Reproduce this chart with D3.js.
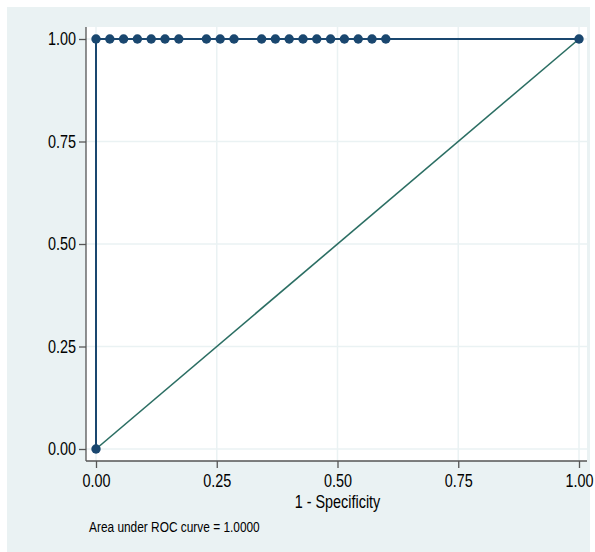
<!DOCTYPE html>
<html>
<head>
<meta charset="utf-8">
<script src="https://cdn.jsdelivr.net/npm/d3@7"></script>
<style>
html,body{margin:0;padding:0;background:#fff;}
svg text{font-family:"Liberation Sans",Arial,sans-serif;fill:#000;}
</style>
</head>
<body>
<svg id="chart" width="595" height="552"></svg>
<script>
// ROC curve points (1 - specificity, sensitivity)
const fpr = [0, 0, 0.0286, 0.0571, 0.0857, 0.1143, 0.1429, 0.1714, 0.2286, 0.2571, 0.2857, 0.3429, 0.3714, 0.4, 0.4286, 0.4571, 0.4857, 0.5143, 0.5429, 0.5714, 0.6, 1];
const sens = [0, 1, 1, 1, 1, 1, 1, 1, 1, 1, 1, 1, 1, 1, 1, 1, 1, 1, 1, 1, 1, 1];
const refX = [0, 1];
const refY = [0, 1];
const xTicks = [0, 0.25, 0.5, 0.75, 1];
const yTicks = [0, 0.25, 0.5, 0.75, 1];
const xTitle = "1 - Specificity";
const note = "Area under ROC curve = 1.0000";

const svg = d3.select("#chart");
const navy = "#1a476f", teal = "#2b6e63", grid = "#eaf2f3", axisCol = "#555";
const SX = 0.8; // horizontal condensing of text (narrow font look)

svg.append("rect").attr("x",7).attr("y",7).attr("width",583).attr("height",545).attr("fill","#eaf2f3");
svg.append("rect").attr("x",86).attr("y",27).attr("width",501).attr("height",434).attr("fill","#fff");

const x = d3.scaleLinear().domain([0,1]).range([96,579]);
const y = d3.scaleLinear().domain([0,1]).range([449,39]);

// grid
svg.append("g").selectAll("line").data(xTicks).join("line")
  .attr("x1",d=>x(d)).attr("x2",d=>x(d)).attr("y1",27).attr("y2",461)
  .attr("stroke",grid).attr("stroke-width",1.5);
svg.append("g").selectAll("line").data(yTicks).join("line")
  .attr("y1",d=>y(d)).attr("y2",d=>y(d)).attr("x1",86).attr("x2",587)
  .attr("stroke",grid).attr("stroke-width",1.5);

// axes
const xAxis = d3.axisBottom(x).tickValues(xTicks).tickFormat(d3.format(".2f")).tickSize(7).tickSizeOuter(0).tickPadding(6);
const gx = svg.append("g").attr("transform","translate(0,461)").call(xAxis);
gx.select(".domain").attr("d","M86,0H587").attr("stroke",axisCol).attr("stroke-width",1.3);
gx.selectAll(".tick line").attr("stroke",axisCol).attr("stroke-width",1.3);
gx.selectAll(".tick text").attr("font-size",18).attr("font-family","Liberation Sans, Arial, sans-serif")
  .attr("fill","#000").attr("transform",`scale(${SX},1)`);

const yAxis = d3.axisLeft(y).tickValues(yTicks).tickFormat(d3.format(".2f")).tickSize(7).tickSizeOuter(0).tickPadding(3);
const gy = svg.append("g").attr("transform","translate(86,0)").call(yAxis);
gy.select(".domain").attr("d","M0,27V461").attr("stroke",axisCol).attr("stroke-width",1.3);
gy.selectAll(".tick line").attr("stroke",axisCol).attr("stroke-width",1.3);
gy.selectAll(".tick text").attr("font-size",18).attr("font-family","Liberation Sans, Arial, sans-serif")
  .attr("fill","#000").attr("x",-10/SX).attr("transform",`scale(${SX},1)`);

// reference line
const line = d3.line().x(d=>x(d[0])).y(d=>y(d[1]));
svg.append("path").datum(refX.map((v,i)=>[v,refY[i]])).attr("d",line)
  .attr("fill","none").attr("stroke",teal).attr("stroke-width",1.6);

// ROC curve
const pts = fpr.map((v,i)=>[v,sens[i]]);
svg.append("path").datum(pts).attr("d",line)
  .attr("fill","none").attr("stroke",navy).attr("stroke-width",2);
svg.append("g").selectAll("circle").data(pts).join("circle")
  .attr("cx",d=>x(d[0])).attr("cy",d=>y(d[1])).attr("r",4.7).attr("fill",navy);

// titles
svg.append("text").attr("transform",`translate(${x(0.5)},508) scale(${SX},1)`)
  .attr("text-anchor","middle").attr("font-size",18).text(xTitle);
svg.append("text").attr("transform",`translate(89,532) scale(0.82,1)`)
  .attr("font-size",14.5).text(note);
</script>
</body>
</html>
